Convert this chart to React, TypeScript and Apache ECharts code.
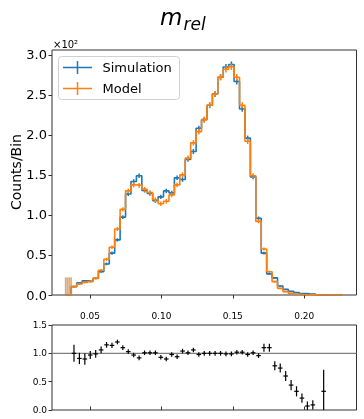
import React, { useEffect, useRef } from "react";
import * as echarts from "echarts";

// Histogram binning (bin edges span BIN_LO..BIN_HI)
const BIN_LO = 0.0331;
const BIN_HI = 0.2269;
const N_BINS = 51;

// Counts per bin (index 0..50)
const simulation = [
  0, 10.4, 15.1, 17.6, 17.2, 21.0, 29.2, 38.8, 52.3, 68.8,
  97.3, 126.2, 141.8, 148.9, 130.7, 126.7, 117.8, 122.6, 130, 127.6,
  146.3, 144.2, 169.3, 179.2, 208.2, 219, 237, 251, 272, 284.8,
  287.9, 266.7, 232.4, 195.9, 147.5, 95.8, 52.3, 26.4, 21.4, 11.2,
  7.0, 4.5, 3.0, 1.9, 1.4, 1.1, 0, 0.15, 0, 0, 0,
];
const simulationErr = [
  0, 1.0, 1.1, 1.2, 1.2, 1.3, 1.5, 1.7, 1.9, 2.1,
  2.4, 2.6, 2.8, 2.9, 2.7, 2.6, 2.6, 2.6, 2.7, 2.6,
  2.8, 2.8, 3.0, 3.1, 3.3, 3.4, 3.5, 3.6, 3.7, 3.8,
  3.8, 3.7, 3.5, 3.2, 2.8, 2.3, 1.7, 1.3, 1.2, 0.9,
  0.7, 0.6, 0.5, 0.4, 0.4, 0.3, 0, 0.2, 0, 0, 0,
];
const model = [
  0, 10.4, 13.7, 15.8, 16.7, 20.8, 31, 44.6, 59.6, 82.5,
  107, 130, 137.5, 137, 132, 128, 119, 114, 117, 125,
  137.5, 150, 171, 190, 204, 219, 237, 251, 272, 282,
  285, 272, 237, 192, 149, 92, 57.5, 29, 16.7, 8.3,
  4.2, 2.0, 1.0, 0.4, 0.1, 0.1, 0.05, 0.05, 0, 0, 0,
];
const modelErr = [
  0, 1.0, 1.1, 1.2, 1.2, 1.3, 1.6, 1.9, 2.2, 2.5,
  2.7, 2.9, 3.0, 3.0, 2.9, 2.9, 2.8, 2.7, 2.8, 2.9,
  3.0, 3.1, 3.3, 3.4, 3.5, 3.6, 3.7, 3.8, 3.9, 4.0,
  4.0, 3.9, 3.7, 3.4, 3.0, 2.4, 1.9, 1.4, 1.1, 0.8,
  0.6, 0.4, 0.3, 0.2, 0.1, 0.1, 0.05, 0.05, 0, 0, 0,
];
// Height of the shaded band drawn in the first (empty) bin
const firstBinBand = 22;

// Ratio panel values (null = not drawn)
const ratio = [
  null, 1.0, 0.91, 0.9, 0.97, 0.99, 1.06, 1.15, 1.14, 1.2,
  1.1, 1.03, 0.97, 0.92, 1.01, 1.01, 1.01, 0.93, 0.9, 0.98,
  0.94, 1.04, 1.01, 1.06, 0.98, 1.0, 1.0, 1.0, 1.0, 0.99,
  0.99, 1.02, 1.02, 0.98, 1.01, 0.96, 1.1, 1.1, 0.78, 0.74,
  0.6, 0.44, 0.33, 0.21, 0.07, 0.09, null, 0.33, null, null, null,
];
const ratioErr = [
  0, 0.15, 0.1, 0.1, 0.07, 0.07, 0.06, 0.05, 0.045, 0.04,
  0.035, 0.03, 0.03, 0.03, 0.03, 0.03, 0.03, 0.03, 0.03, 0.03,
  0.025, 0.025, 0.025, 0.02, 0.02, 0.02, 0.02, 0.02, 0.02, 0.02,
  0.02, 0.02, 0.02, 0.02, 0.02, 0.03, 0.07, 0.07, 0.08, 0.08,
  0.09, 0.09, 0.09, 0.08, 0.08, 0.08, 0, 0.38, 0, 0, 0,
];

const xTicks = [0.05, 0.1, 0.15, 0.2];
const yTicksTop = [0, 50, 100, 150, 200, 250, 300];
const yTopMax = 306;
const yTicksRatio = [0, 0.5, 1.0, 1.5];
const ratioRef = 1.0;

const BLUE = "#1f77b4";
const ORANGE = "#ff7f0e";
const FONT = "DejaVu Sans";

export default function App() {
  const ref = useRef<HTMLDivElement>(null);

  useEffect(() => {
    const chart = echarts.init(ref.current!, null, { renderer: "svg" });
    const w = (BIN_HI - BIN_LO) / N_BINS;
    const edges = Array.from({ length: N_BINS + 1 }, (_, i) => BIN_LO + i * w);
    const centers = edges.slice(0, -1).map((e) => e + w / 2);
    const span = BIN_HI - BIN_LO;
    const xMin = BIN_LO - 0.05 * span;
    const xMax = BIN_HI + 0.05 * span;

    const stepData = (vals: number[]) => {
      const d = vals.map((v, i) => [edges[i], v]);
      d.push([edges[N_BINS], vals[N_BINS - 1]]);
      return d;
    };
    const errData = (vals: number[], errs: number[]) =>
      vals.map((v, i) => [centers[i], v, errs[i]]);

    const errRender = (color: string) => (params: any, api: any) => {
      const x = api.value(0), y = api.value(1), e = api.value(2);
      if (!(e > 0)) return null;
      const p1 = api.coord([x, Math.max(0, y - e)]);
      const p2 = api.coord([x, y + e]);
      return {
        type: "line",
        shape: { x1: p1[0], y1: p1[1], x2: p2[0], y2: p2[1] },
        style: { stroke: color, lineWidth: 1.5 },
      };
    };

    const ratioData = ratio
      .map((r, i) => (r == null ? null : [centers[i], r, ratioErr[i]]))
      .filter((d) => d != null);

    const axisTickStyle = { color: "#333", width: 1 };
    const labelStyle = { color: "#000", fontFamily: FONT };

    chart.setOption({
      animation: false,
      textStyle: { fontFamily: FONT },
      grid: [
        { left: 52, top: 50, width: 304.5, height: 245, show: true, borderColor: "#333", borderWidth: 1, backgroundColor: "transparent" },
        { left: 52, top: 325, width: 304.5, height: 85, show: true, borderColor: "#333", borderWidth: 1, backgroundColor: "transparent" },
      ],
      xAxis: [
        {
          gridIndex: 0, type: "value", min: xMin, max: xMax,
          axisLine: { show: false },
          axisTick: { show: true, customValues: xTicks, length: 3.5, lineStyle: axisTickStyle },
          axisLabel: { show: false },
          splitLine: { show: false },
        },
        {
          gridIndex: 1, type: "value", position: "top", min: xMin, max: xMax,
          axisLine: { show: false },
          axisTick: { show: true, customValues: xTicks, length: 3.5, lineStyle: axisTickStyle },
          axisLabel: { show: true, customValues: xTicks, fontSize: 9, margin: 5, ...labelStyle, formatter: (v: number) => v.toFixed(2) },
          splitLine: { show: false },
        },
      ],
      yAxis: [
        {
          gridIndex: 0, type: "value", min: 0, max: yTopMax,
          axisLine: { show: false },
          axisTick: { show: true, customValues: yTicksTop, length: 3.5, lineStyle: axisTickStyle },
          axisLabel: { show: true, customValues: yTicksTop, fontSize: 13, margin: 5, ...labelStyle, formatter: (v: number) => (v / 100).toFixed(1) },
          splitLine: { show: false },
        },
        {
          gridIndex: 1, type: "value", min: 0, max: 1.5,
          axisLine: { show: false },
          axisTick: { show: true, customValues: yTicksRatio, length: 3.5, lineStyle: axisTickStyle },
          axisLabel: { show: true, customValues: yTicksRatio, fontSize: 9, margin: 5, ...labelStyle, formatter: (v: number) => v.toFixed(1) },
          splitLine: { show: false },
        },
      ],
      series: [
        {
          name: "band", type: "custom", xAxisIndex: 0, yAxisIndex: 0, clip: true,
          data: [[edges[0], edges[1], firstBinBand]],
          renderItem: (params: any, api: any) => {
            const a = api.coord([api.value(0), 0]);
            const b = api.coord([api.value(1), api.value(2)]);
            const children: any[] = [];
            let k = 0;
            for (let x = a[0] - 0.5; x <= b[0] + 0.6; x += 1, k++) {
              children.push({
                type: "line",
                shape: { x1: x, y1: a[1], x2: x, y2: b[1] },
                style: { stroke: k % 2 === 0 ? BLUE : ORANGE, lineWidth: 1, opacity: 0.55 },
              });
            }
            return { type: "group", children };
          },
        },
        {
          name: "Simulation", type: "line", xAxisIndex: 0, yAxisIndex: 0, step: "end",
          data: stepData(simulation), showSymbol: false, symbol: "none",
          lineStyle: { color: BLUE, width: 1.6 }, itemStyle: { color: BLUE }, z: 2,
        },
        {
          name: "Simulation", type: "custom", xAxisIndex: 0, yAxisIndex: 0, clip: true,
          data: errData(simulation, simulationErr), renderItem: errRender(BLUE), z: 2,
          encode: { x: 0, y: 1 },
        },
        {
          name: "Model", type: "line", xAxisIndex: 0, yAxisIndex: 0, step: "end",
          data: stepData(model), showSymbol: false, symbol: "none",
          lineStyle: { color: ORANGE, width: 1.6 }, itemStyle: { color: ORANGE }, z: 3,
        },
        {
          name: "Model", type: "custom", xAxisIndex: 0, yAxisIndex: 0, clip: true,
          data: errData(model, modelErr), renderItem: errRender(ORANGE), z: 3,
          encode: { x: 0, y: 1 },
        },
        {
          name: "ref", type: "line", xAxisIndex: 1, yAxisIndex: 1,
          data: [[xMin, ratioRef], [xMax, ratioRef]], symbol: "none",
          lineStyle: { color: "#808080", width: 1.2 }, z: 1,
        },
        {
          name: "Ratio", type: "custom", xAxisIndex: 1, yAxisIndex: 1, clip: true,
          data: ratioData, encode: { x: 0, y: 1 }, z: 3,
          renderItem: (params: any, api: any) => {
            const x = api.value(0), y = api.value(1), e = api.value(2);
            const c = api.coord([x, y]);
            const lo = api.coord([x, Math.max(0, y - e)]);
            const hi = api.coord([x, y + e]);
            const arm = 2.3;
            const top = Math.min(hi[1], c[1] - arm);
            const bot = Math.max(lo[1], c[1] + arm);
            return {
              type: "group",
              children: [
                { type: "line", shape: { x1: c[0] - arm, y1: c[1], x2: c[0] + arm, y2: c[1] }, style: { stroke: "#000", lineWidth: 1.2 } },
                { type: "line", shape: { x1: c[0], y1: top, x2: c[0], y2: bot }, style: { stroke: "#000", lineWidth: 1.2 } },
              ],
            };
          },
        },
      ],
      graphic: [
        { type: "text", x: 160, y: 17, style: { text: "m", fontSize: 23, fontStyle: "italic", fontFamily: FONT, fill: "#000", verticalAlign: "middle" } },
        { type: "text", x: 183.5, y: 23.5, style: { text: "rel", fontSize: 17, fontStyle: "italic", fontFamily: FONT, fill: "#000", verticalAlign: "middle" } },
        { type: "text", x: 53, y: 44.5, style: { text: "×10²", fontSize: 10, fontFamily: FONT, fill: "#000", verticalAlign: "middle" } },
        { type: "text", x: 16, y: 172, rotation: Math.PI / 2, style: { text: "Counts/Bin", fontSize: 14, fontFamily: FONT, fill: "#000", align: "center", verticalAlign: "middle" } },
        {
          type: "group", z: 100,
          children: [
            { type: "rect", shape: { x: 58.5, y: 56.5, width: 121, height: 43, r: 3 }, style: { fill: "rgba(255,255,255,0.8)", stroke: "#d0d0d0", lineWidth: 1 } },
            { type: "line", shape: { x1: 63, y1: 67.5, x2: 92, y2: 67.5 }, style: { stroke: BLUE, lineWidth: 1.5 } },
            { type: "line", shape: { x1: 77.5, y1: 61, x2: 77.5, y2: 74 }, style: { stroke: BLUE, lineWidth: 1.5 } },
            { type: "text", x: 102.5, y: 67.5, style: { text: "Simulation", fontSize: 13, fontFamily: FONT, fill: "#000", verticalAlign: "middle" } },
            { type: "line", shape: { x1: 63, y1: 88.5, x2: 92, y2: 88.5 }, style: { stroke: ORANGE, lineWidth: 1.5 } },
            { type: "line", shape: { x1: 77.5, y1: 82, x2: 77.5, y2: 95 }, style: { stroke: ORANGE, lineWidth: 1.5 } },
            { type: "text", x: 102.5, y: 88.5, style: { text: "Model", fontSize: 13, fontFamily: FONT, fill: "#000", verticalAlign: "middle" } },
          ],
        },
      ],
    });

    return () => chart.dispose();
  }, []);

  return <div ref={ref} style={{ position: "fixed", left: 0, top: 0, width: 364, height: 419 }} />;
}
